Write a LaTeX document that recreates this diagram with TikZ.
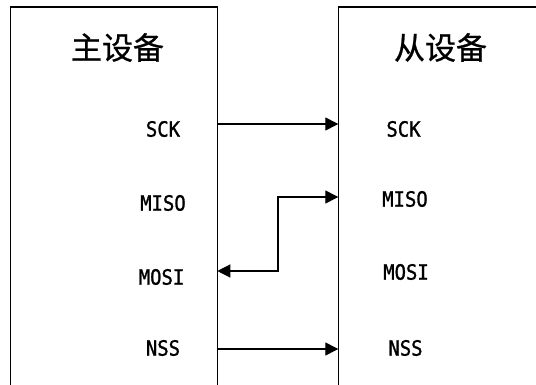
\documentclass[tikz,border=0pt]{standalone}
\usepackage{fontspec}
\usepackage{xcolor}
\usepackage{tikz}
\usetikzlibrary{positioning,arrows.meta}
\newfontfamily\cjkfont[FakeBold=0.8]{Noto Sans CJK SC}
\newfontfamily\pinfont[FakeStretch=0.9, FakeBold=1.2]{DejaVu Sans Mono}
\definecolor{ink}{HTML}{000000}
\definecolor{paper}{HTML}{FFFFFF}
\tikzset{
  dev/.style={draw=ink, line width=1.6pt, fill=paper, anchor=north west, inner sep=0pt, outer sep=0pt, minimum height=460pt},
  ttl/.style={font=\cjkfont\fontsize{31}{31}\selectfont, text=ink},
  pin/.style={font=\pinfont\fontsize{21}{21}\selectfont, text=ink, inner sep=0pt},
}
\begin{document}
\begin{tikzpicture}[x=1pt, y=-1pt, sig/.style={draw=ink, line width=1.3pt, -{Triangle[length=13pt, width=13pt]}}]
\useasboundingbox (0,0) rectangle (536,385);
\clip (0,0) rectangle (536,385);
\node[dev, minimum width=206.8pt] (master) at (10.5,7.3) {};
\node[dev, minimum width=260pt] (slave) at (338.3,7.3) {};
\node[ttl] (mtitle) at (117.5,47.5) {主设备};
\node[ttl] (stitle) at (440.5,47.5) {从设备};
\node[pin] (mSCK) at (163,129) {SCK};
\node[pin] (mMISO) at (163,203) {MISO};
\node[pin] (mMOSI) at (161.5,277) {MOSI};
\node[pin] (mNSS) at (163,348) {NSS};
\node[pin] (sSCK) at (403.5,129) {SCK};
\node[pin] (sMISO) at (405,199) {MISO};
\node[pin] (sMOSI) at (406,272) {MOSI};
\node[pin] (sNSS) at (405.5,348) {NSS};
\coordinate (aSCK) at (217.3,124);
\coordinate (bSCK) at (338.3,124);
\coordinate (aMOSI) at (217.3,271);
\coordinate (bend) at (278,271);
\coordinate (bMISO) at (338.3,197);
\coordinate (aNSS) at (217.3,349);
\coordinate (bNSS) at (338.3,349);
\draw[sig] (aSCK) -- (bSCK);
\draw[sig, {Triangle[length=13pt, width=13pt]}-{Triangle[length=13pt, width=13pt]}] (aMOSI) -- (bend) |- (bMISO);
\draw[sig] (aNSS) -- (bNSS);
\end{tikzpicture}
\end{document}
